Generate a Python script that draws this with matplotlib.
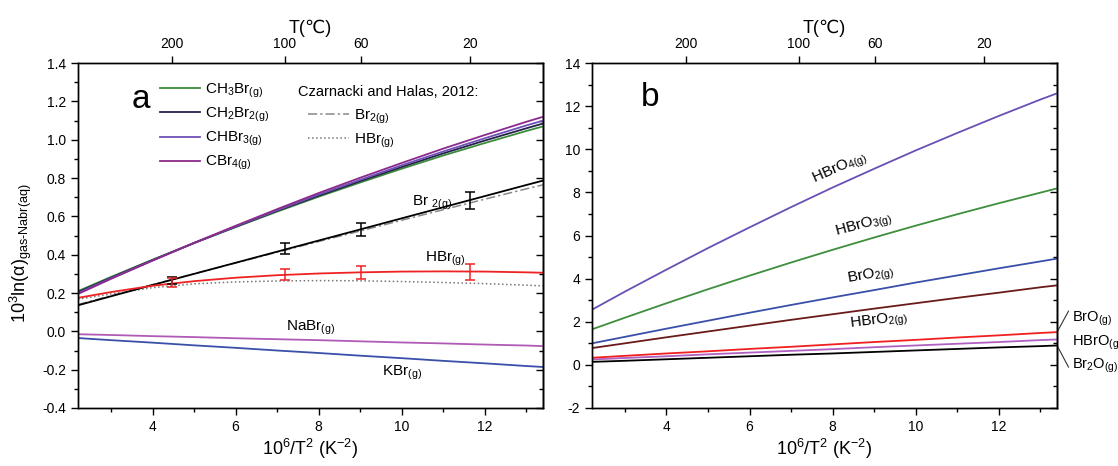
import matplotlib
matplotlib.use("Agg")
import matplotlib.pyplot as plt
from matplotlib.ticker import MultipleLocator
from matplotlib.lines import Line2D

plt.rcParams['font.family'] = ['Liberation Sans', 'DejaVu Sans']
plt.rcParams['mathtext.default'] = 'regular'
plt.rcParams['axes.unicode_minus'] = False
plt.rcParams['axes.linewidth'] = 1.0

# 10^6/T^2 grid, 400 C down to 0 C
x = [2.207, 3, 4, 5, 6, 7, 8, 9, 10, 11, 12, 13, 13.403]

# (a) 10^3 ln(alpha) gas - NaBr(aq)
ch3br = [0.210, 0.284, 0.374, 0.461, 0.544, 0.625, 0.703, 0.777, 0.849, 0.918, 0.983, 1.046, 1.070]
ch2br2 = [0.205, 0.280, 0.372, 0.461, 0.546, 0.629, 0.708, 0.784, 0.858, 0.929, 0.996, 1.060, 1.085]
chbr3 = [0.200, 0.277, 0.370, 0.461, 0.548, 0.632, 0.714, 0.791, 0.867, 0.939, 1.008, 1.075, 1.100]
cbr4 = [0.195, 0.274, 0.369, 0.462, 0.551, 0.638, 0.722, 0.802, 0.879, 0.954, 1.025, 1.094, 1.120]
br2 = [0.136, 0.183, 0.242, 0.300, 0.358, 0.416, 0.474, 0.532, 0.590, 0.648, 0.706, 0.764, 0.787]
hbr = [0.175, 0.205, 0.238, 0.262, 0.280, 0.293, 0.302, 0.308, 0.312, 0.313, 0.312, 0.308, 0.306]
nabr = [-0.015, -0.019, -0.025, -0.030, -0.036, -0.041, -0.046, -0.052, -0.058, -0.063, -0.069, -0.074, -0.077]
kbr = [-0.035, -0.046, -0.059, -0.073, -0.086, -0.100, -0.113, -0.127, -0.140, -0.154, -0.167, -0.181, -0.186]
# Czarnacki and Halas (2012)
br2_cz = [0.140, 0.186, 0.244, 0.301, 0.357, 0.413, 0.469, 0.524, 0.580, 0.635, 0.690, 0.744, 0.765]
hbr_cz = [0.168, 0.195, 0.228, 0.248, 0.258, 0.263, 0.265, 0.264, 0.260, 0.255, 0.249, 0.241, 0.237]

# points with error bars at 200, 100, 60, 20 C
pts_T = [200, 100, 60, 20]
br2_pts = [0.266, 0.432, 0.533, 0.684]
br2_err = [0.020, 0.029, 0.035, 0.046]
hbr_pts = [0.254, 0.296, 0.306, 0.312]
hbr_err = [0.022, 0.028, 0.035, 0.042]

# (b) bromine oxides / oxyacids
hbro4 = [2.56, 3.40, 4.42, 5.42, 6.38, 7.32, 8.23, 9.10, 9.95, 10.76, 11.55, 12.31, 12.60]
hbro3 = [1.65, 2.19, 2.86, 3.51, 4.14, 4.75, 5.34, 5.91, 6.46, 6.99, 7.50, 7.99, 8.19]
bro2 = [1.00, 1.30, 1.68, 2.05, 2.42, 2.78, 3.13, 3.47, 3.82, 4.15, 4.48, 4.80, 4.93]
hbro2 = [0.78, 1.00, 1.28, 1.55, 1.82, 2.09, 2.35, 2.61, 2.86, 3.11, 3.35, 3.60, 3.69]
bro = [0.33, 0.42, 0.53, 0.63, 0.74, 0.84, 0.95, 1.06, 1.16, 1.27, 1.37, 1.48, 1.52]
hbro = [0.25, 0.32, 0.40, 0.49, 0.57, 0.65, 0.73, 0.82, 0.90, 0.98, 1.06, 1.15, 1.18]
br2o = [0.14, 0.19, 0.26, 0.33, 0.40, 0.47, 0.53, 0.60, 0.67, 0.74, 0.81, 0.87, 0.90]

top_T = [200, 100, 60, 20]

FS = 11        # annotations / legend
TICK_FS = 10
LABEL_FS = 13


def inv_t2(temps):
    return [1e6 / (t + 273.15) ** 2 for t in temps]


def frame(ax, major, minor, ylim):
    ax.set_xlim(x[0], x[-1])
    ax.set_ylim(*ylim)
    ax.xaxis.set_major_locator(MultipleLocator(2))
    ax.xaxis.set_minor_locator(MultipleLocator(1))
    ax.yaxis.set_major_locator(MultipleLocator(major))
    ax.yaxis.set_minor_locator(MultipleLocator(minor))
    ax.tick_params(which='both', direction='out', labelsize=TICK_FS, width=1, top=False, right=False)
    ax.tick_params(which='major', length=5)
    ax.tick_params(which='minor', length=3)
    ax.set_xlabel('10$^6$/T$^2$ (K$^{-2}$)', fontsize=LABEL_FS, labelpad=2)
    r = ax.secondary_yaxis('right')
    r.yaxis.set_major_locator(MultipleLocator(major))
    r.yaxis.set_minor_locator(MultipleLocator(minor))
    r.tick_params(which='both', direction='in', labelright=False, width=1)
    r.tick_params(which='major', length=5)
    r.tick_params(which='minor', length=3)
    t = ax.twiny()
    t.set_xlim(ax.get_xlim())
    t.set_xticks(inv_t2(top_T))
    t.set_xticklabels([str(v) for v in top_T])
    t.tick_params(direction='out', length=5, width=1, labelsize=TICK_FS)
    t.set_xlabel('T(℃)', fontsize=LABEL_FS, labelpad=3)


fig = plt.figure(figsize=(11.18, 4.66), dpi=100)
axa = fig.add_axes([0.0698, 0.1245, 0.416, 0.740])
axb = fig.add_axes([0.5295, 0.1245, 0.416, 0.740])

# ---- panel a ----
lw = 1.3
axa.plot(x, kbr, color='#3a50a8', lw=lw)
axa.plot(x, nabr, color='#b05ab8', lw=lw)
axa.plot(x, hbr_cz, color='#777777', lw=1.1, ls=':')
axa.plot(x, br2_cz, color='#888888', lw=1.1, ls=(0, (6, 2, 1.5, 2)))
axa.plot(x, br2, color='black', lw=lw)
axa.plot(x, hbr, color='#ee2222', lw=lw)
l1, = axa.plot(x, ch3br, color='#3c8c3c', lw=lw)
l2, = axa.plot(x, ch2br2, color='#23234a', lw=lw)
l3, = axa.plot(x, chbr3, color='#7050b8', lw=lw)
l4, = axa.plot(x, cbr4, color='#8c2a8c', lw=lw)

axa.errorbar(inv_t2(pts_T), br2_pts, yerr=br2_err, fmt='none', ecolor='black',
             elinewidth=1.1, capsize=3.5, capthick=1.1)
axa.errorbar(inv_t2(pts_T), hbr_pts, yerr=hbr_err, fmt='none', ecolor='#ee2222',
             elinewidth=1.1, capsize=3.5, capthick=1.1)

frame(axa, 0.2, 0.1, (-0.4, 1.4))
axa.set_ylabel('10$^3$ln(α)$_{gas\u2010Nabr(aq)}$', fontsize=LABEL_FS)
axa.yaxis.set_label_coords(-0.095, 0.45)

leg1 = axa.legend([l1, l2, l3, l4],
                  ['CH$_3$Br$_{(g)}$', 'CH$_2$Br$_{2(g)}$', 'CHBr$_{3(g)}$', 'CBr$_{4(g)}$'],
                  loc='upper left', bbox_to_anchor=(0.176, 0.946), frameon=False,
                  fontsize=FS, handlelength=2.6, handletextpad=0.33, labelspacing=0.38,
                  borderpad=0, borderaxespad=0)
axa.add_artist(leg1)
cz_handles = [Line2D([], [], color='#888888', lw=1.1, ls=(0, (6, 2, 1.5, 2))),
              Line2D([], [], color='#777777', lw=1.1, ls=':')]
axa.legend(cz_handles, ['Br$_{2(g)}$', 'HBr$_{(g)}$'], loc='upper left',
           bbox_to_anchor=(0.4946, 0.872), frameon=False, fontsize=FS,
           handlelength=2.7, handletextpad=0.33, labelspacing=0.38,
           borderpad=0, borderaxespad=0)
axa.text(0.473, 0.917, 'Czarnacki and Halas, 2012:', transform=axa.transAxes,
         fontsize=10.5, va='center')

axa.text(10.24, 0.658, 'Br $_{2(g)}$', fontsize=FS, va='baseline')
axa.text(10.55, 0.362, 'HBr$_{(g)}$', fontsize=FS, va='baseline')
axa.text(7.21, 0.005, 'NaBr$_{(g)}$', fontsize=FS, va='baseline')
axa.text(9.52, -0.23, 'KBr$_{(g)}$', fontsize=FS, va='baseline')
axa.text(0.135, 0.895, 'a', transform=axa.transAxes, fontsize=24, ha='center', va='center')

# ---- panel b ----
axb.plot(x, hbro4, color='#6a4fb5', lw=lw)
axb.plot(x, hbro3, color='#3e8e3e', lw=lw)
axb.plot(x, bro2, color='#3a4fa8', lw=lw)
axb.plot(x, hbro2, color='#6b1a1a', lw=lw)
axb.plot(x, hbro, color='#b060c0', lw=lw)
axb.plot(x, bro, color='#f02020', lw=lw)
axb.plot(x, br2o, color='black', lw=lw)

frame(axb, 2, 1, (-2, 14))

kw = dict(fontsize=FS, ha='center', va='center', rotation_mode='anchor')
axb.text(8.19, 9.12, 'HBrO$_{4(g)}$', rotation=24, **kw)
axb.text(8.75, 6.48, 'HBrO$_{3(g)}$', rotation=15, **kw)
axb.text(8.91, 4.15, 'BrO$_{2(g)}$', rotation=10, **kw)
axb.text(9.11, 2.03, 'HBrO$_{2(g)}$', rotation=7, **kw)

side_fs = 10.5
axb.text(13.76, 1.99, 'BrO$_{(g)}$', fontsize=side_fs, va='baseline', clip_on=False)
axb.text(13.76, 0.90, 'HBrO$_{(g)}$', fontsize=side_fs, va='baseline', clip_on=False)
axb.text(13.76, -0.19, 'Br$_2$O$_{(g)}$', fontsize=side_fs, va='baseline', clip_on=False)
leader = dict(arrowstyle='-', lw=0.8, color='#333333', shrinkA=0, shrinkB=0)
axb.annotate('', xy=(x[-1], bro[-1]), xytext=(13.68, 2.50), arrowprops=leader,
             annotation_clip=False)
axb.annotate('', xy=(x[-1], br2o[-1]), xytext=(13.68, -0.11), arrowprops=leader,
             annotation_clip=False)
axb.text(0.125, 0.9, 'b', transform=axb.transAxes, fontsize=24, ha='center', va='center')

fig.savefig('out.png', dpi=100)
